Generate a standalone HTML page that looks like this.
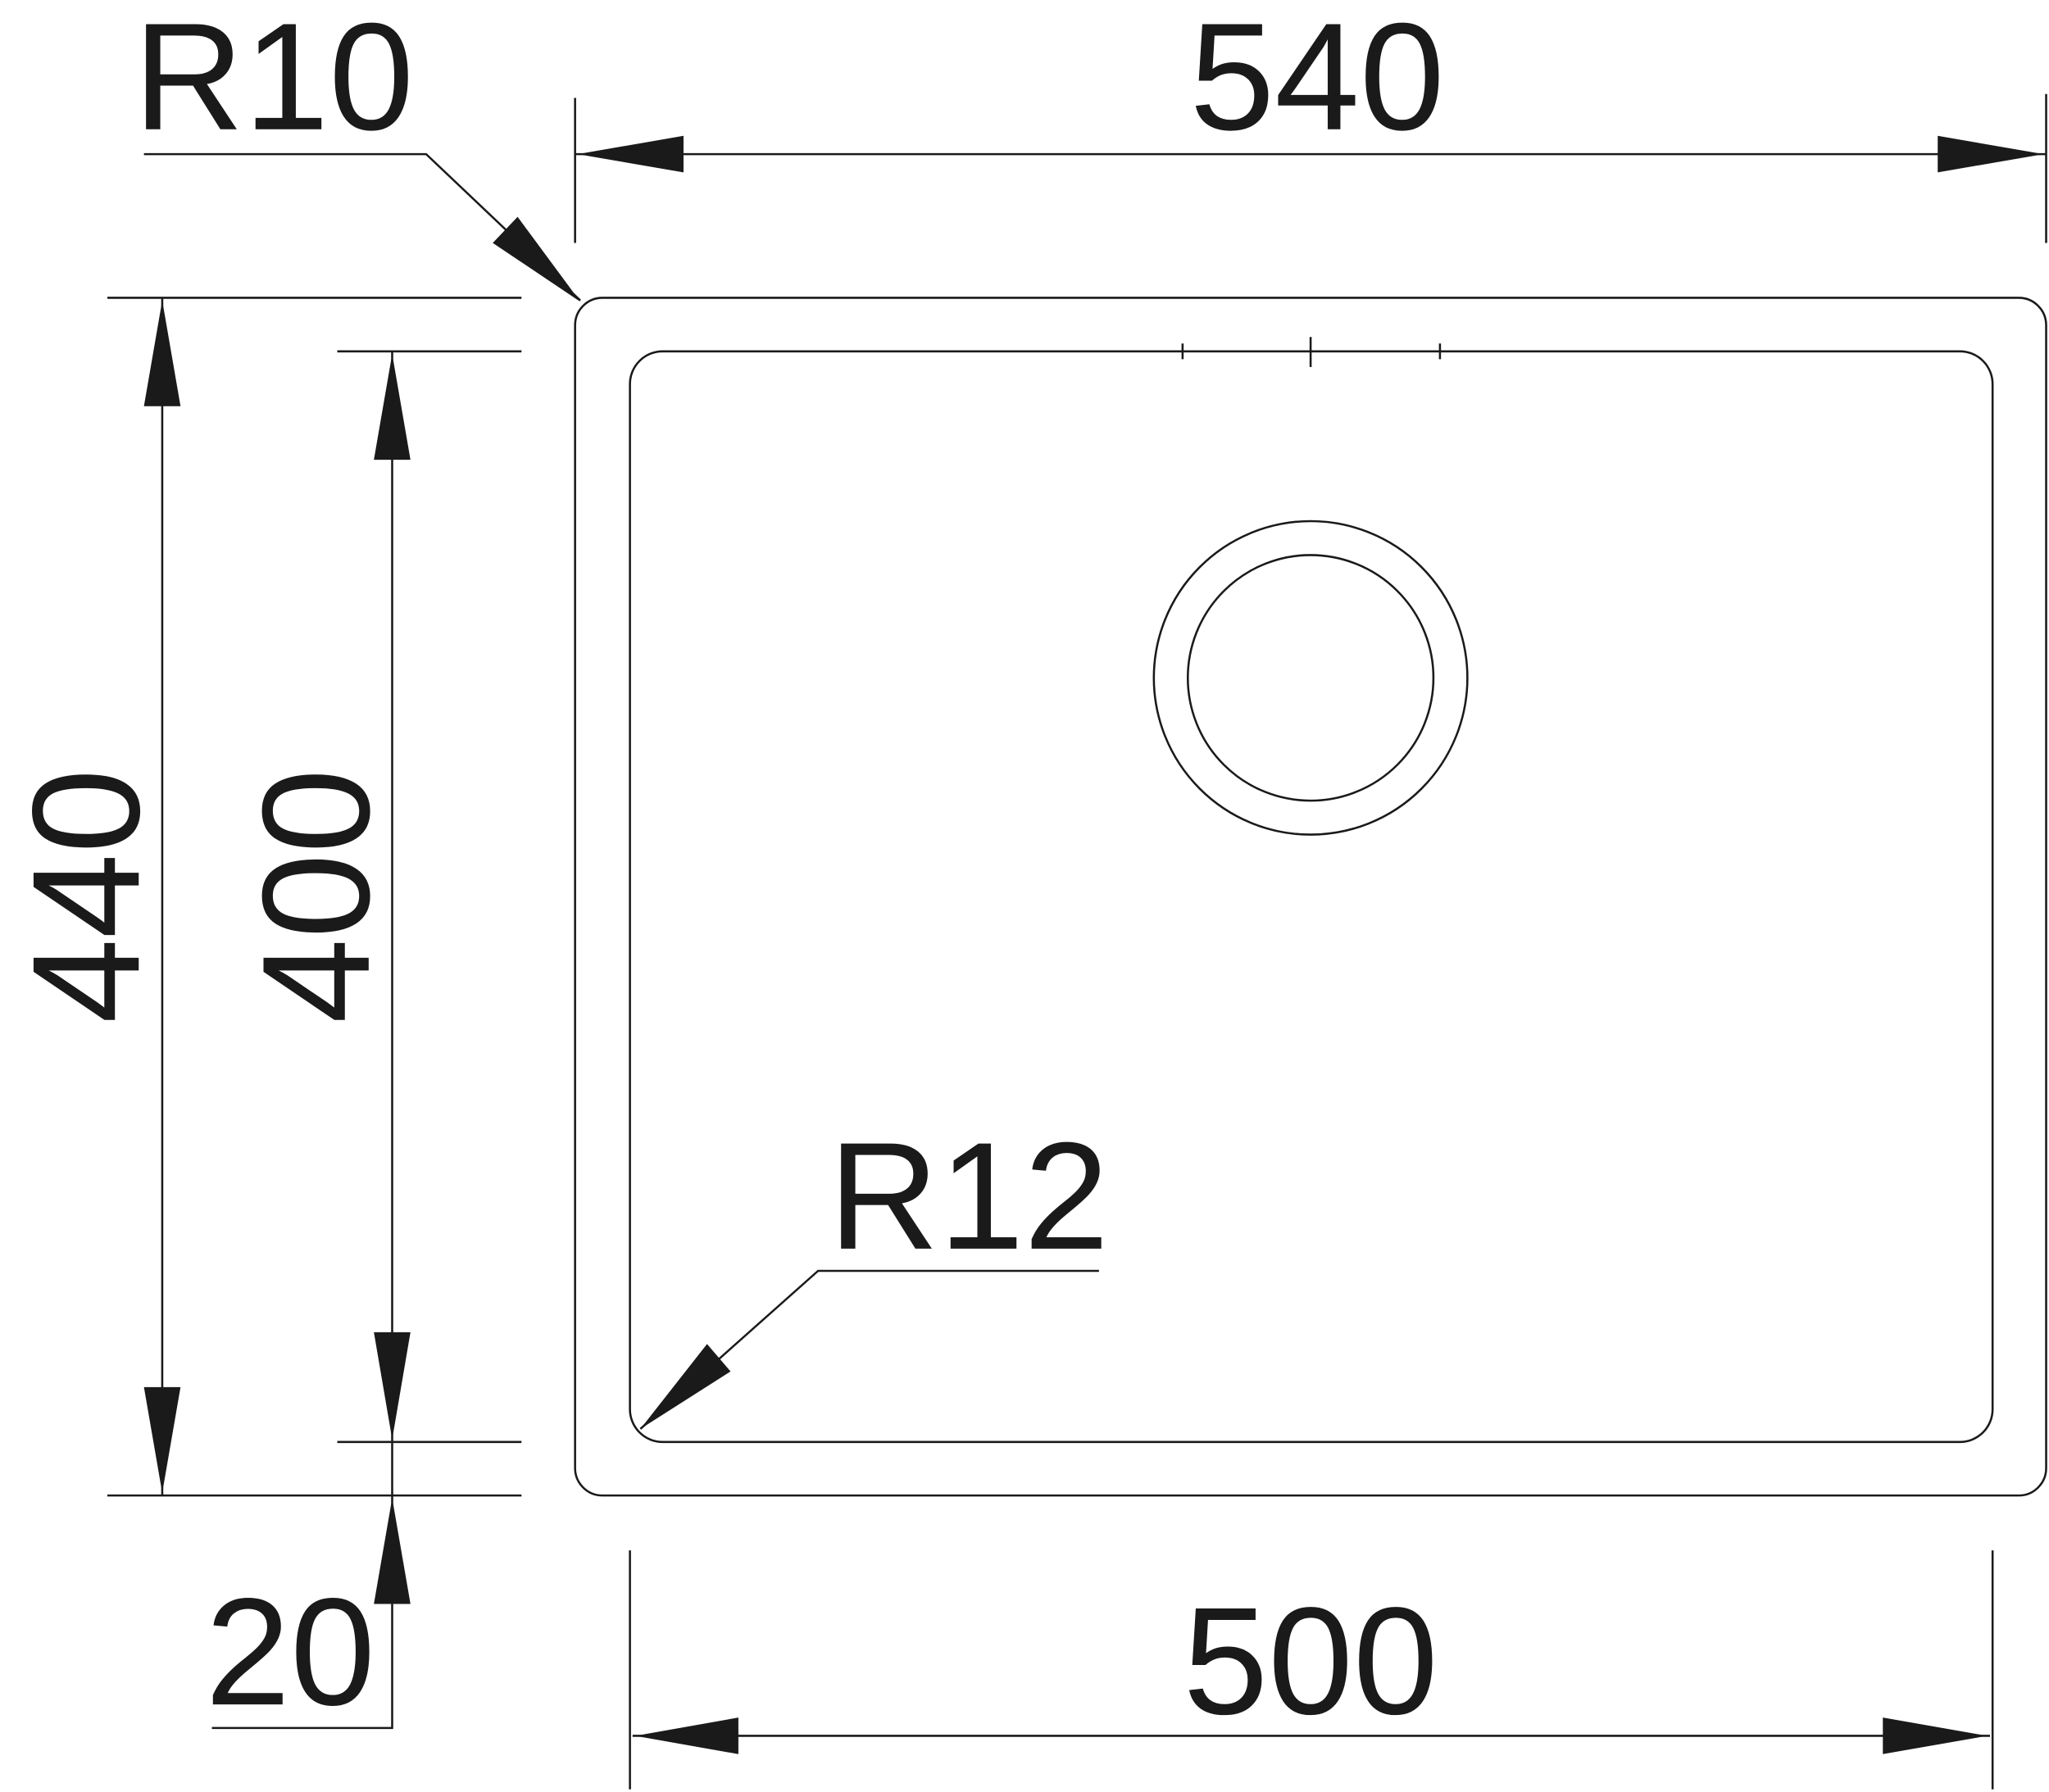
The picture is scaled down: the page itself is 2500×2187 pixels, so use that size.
<!DOCTYPE html>
<html><head><meta charset="utf-8"><style>html,body{margin:0;padding:0;background:#fff}svg{display:block}</style></head>
<body>
<svg width="2500" height="2187" viewBox="0 0 1568 1372" xmlns="http://www.w3.org/2000/svg">
<g fill="none" stroke="#1a1a1a" stroke-width="1.6">
<rect x="440" y="228" width="1126" height="917" rx="21"/>
<rect x="482" y="269" width="1043" height="835" rx="25"/>
<line x1="905" y1="263" x2="905" y2="275"/>
<line x1="1003" y1="258" x2="1003" y2="281"/>
<line x1="1102" y1="263" x2="1102" y2="275"/>
<circle cx="1003" cy="519" r="120"/>
<circle cx="1003" cy="519" r="94"/>
<line x1="440" y1="75" x2="440" y2="186"/>
<line x1="1566" y1="72" x2="1566" y2="186"/>
<line x1="440" y1="118" x2="1566" y2="118"/>
<polyline points="110,118 326,118 444,230"/>
<line x1="82" y1="228" x2="399" y2="228"/>
<line x1="258" y1="269" x2="399" y2="269"/>
<line x1="258" y1="1104" x2="399" y2="1104"/>
<line x1="82" y1="1145" x2="399" y2="1145"/>
<line x1="124" y1="228" x2="124" y2="1145"/>
<polyline points="300,269 300,1323 162,1323"/>
<line x1="482" y1="1187" x2="482" y2="1370"/>
<line x1="1525" y1="1187" x2="1525" y2="1370"/>
<line x1="484" y1="1329" x2="1523" y2="1329"/>
<polyline points="841,973 626,973 490,1094"/>
</g>
<g fill="#1a1a1a">
<polygon points="442,118 523,104 523,132"/>
<polygon points="1564,118 1483,104 1483,132"/>
<polygon points="444,231 377,186 396,166"/>
<polygon points="124,230 110,311 138,311"/>
<polygon points="124,1143 110,1062 138,1062"/>
<polygon points="300,271 286,352 314,352"/>
<polygon points="300,1102 286,1020 314,1020"/>
<polygon points="300,1147 286,1228 314,1228"/>
<polygon points="486,1329 565,1315 565,1343"/>
<polygon points="1521,1329 1441,1315 1441,1343"/>
<polygon points="490,1094 541,1029 559,1050"/>
</g>
<g font-family="Liberation Sans, Arial, sans-serif" font-size="117" fill="#1a1a1a">
<text x="1008" y="99" text-anchor="middle">540</text>
<text x="102" y="99">R10</text>
<text x="1003" y="1312" text-anchor="middle">500</text>
<text x="634" y="956">R12</text>
<text x="222" y="1305" text-anchor="middle">20</text>
<text transform="translate(106,686) rotate(-90)" text-anchor="middle">440</text>
<text transform="translate(282,686) rotate(-90)" text-anchor="middle">400</text>
</g>
</svg>
</body></html>
